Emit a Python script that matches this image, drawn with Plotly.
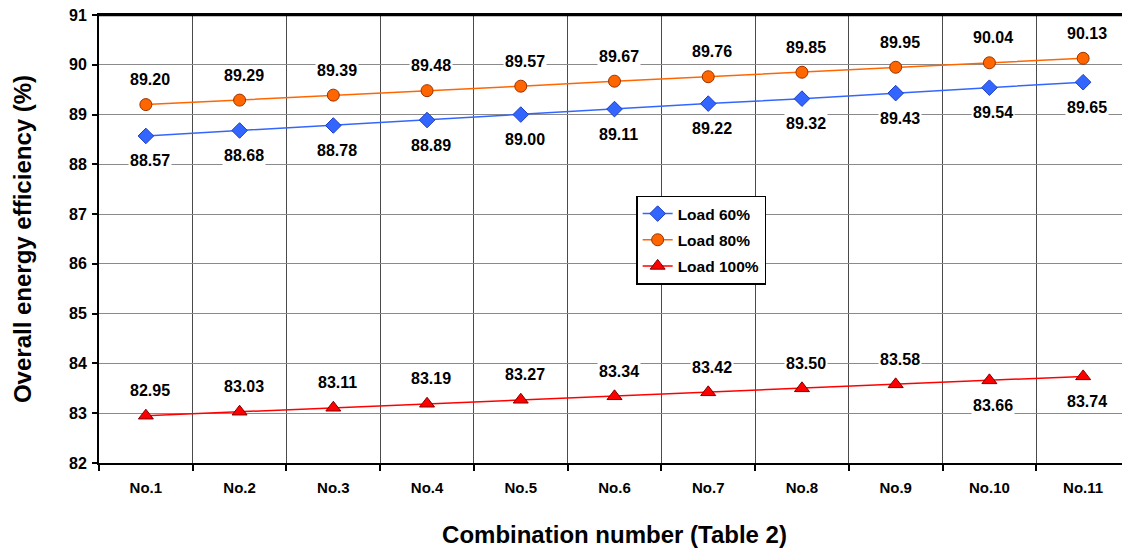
import plotly.graph_objects as go

categories = ["No.1", "No.2", "No.3", "No.4", "No.5", "No.6", "No.7", "No.8", "No.9", "No.10", "No.11"]
load60 = [88.57, 88.68, 88.78, 88.89, 89.00, 89.11, 89.22, 89.32, 89.43, 89.54, 89.65]
load80 = [89.20, 89.29, 89.39, 89.48, 89.57, 89.67, 89.76, 89.85, 89.95, 90.04, 90.13]
load100 = [82.95, 83.03, 83.11, 83.19, 83.27, 83.34, 83.42, 83.50, 83.58, 83.66, 83.74]
y_ticks = [82, 83, 84, 85, 86, 87, 88, 89, 90, 91]

# label placement (style): +1 above, -1 below
place60 = [-1] * 11
place80 = [1] * 11
place100 = [1] * 9 + [-1, -1]

FONT = "Arial, Liberation Sans, sans-serif"

series = [
    ("Load 60%", load60, place60, "#3366FF", "#1F3FBF", "diamond", 12),
    ("Load 80%", load80, place80, "#FF6600", "#993300", "circle", 12),
    ("Load 100%", load100, place100, "#FF0000", "#800000", "triangle-up", 13),
]

fig = go.Figure()
annotations = []
for name, vals, place, col, edge, sym, size in series:
    fig.add_trace(go.Scatter(
        x=categories, y=vals, mode="lines+markers", name=name, legendgroup=name,
        line=dict(color=col, width=1.5),
        marker=dict(symbol=sym, size=size, color=col, line=dict(color=edge, width=1)),
    ))
    for c, v, p in zip(categories, vals, place):
        annotations.append(dict(
            x=c, y=v, xref="x", yref="y", text=f"{v:.2f}", showarrow=False,
            yshift=25 * p, xshift=4,
            font=dict(family=FONT, size=16, color="black", weight="bold"),
            bgcolor="white", borderpad=1,
        ))

fig.update_layout(
    width=1122, height=540,
    margin=dict(l=91, r=0, t=7, b=85),
    paper_bgcolor="white", plot_bgcolor="white",
    font=dict(family=FONT, color="black"),
    annotations=annotations,
    shapes=[dict(type="line", xref="paper", yref="paper", x0=0, x1=1, y0=1, y1=1,
                 line=dict(color="black", width=2.5), layer="above")],
    showlegend=True,
    legend=dict(
        x=0.521, y=0.597, xanchor="left", yanchor="top",
        bgcolor="white", bordercolor="black", borderwidth=1.5,
        font=dict(family=FONT, size=15.5, color="black", weight="bold"),
        tracegroupgap=3,
    ),
    xaxis=dict(
        type="category", range=[-0.5, 10.5], automargin=False,
        tickson="boundaries", showgrid=True, gridcolor="#4a4a4a", gridwidth=1,
        ticks="outside", ticklen=6, tickwidth=2, tickcolor="black",
        ticklabelstandoff=10,
        showline=True, linecolor="black", linewidth=2, mirror=True,
        tickfont=dict(family=FONT, size=15, color="black", weight="bold"),
        title=dict(text="Combination number (Table 2)", standoff=32,
                   font=dict(family=FONT, size=24, color="black", weight="bold")),
    ),
    yaxis=dict(
        range=[82, 91], tickvals=y_ticks, automargin=False,
        ticklabeloverflow="allow",
        showgrid=True, gridcolor="#8a8a8a", gridwidth=1,
        ticks="outside", ticklen=5, tickwidth=2, tickcolor="black",
        ticklabelstandoff=2,
        showline=True, linecolor="black", linewidth=2,
        tickfont=dict(family=FONT, size=16, color="black", weight="bold"),
        title=dict(text="Overall energy efficiency (%)", standoff=31,
                   font=dict(family=FONT, size=24, color="black", weight="bold")),
        zeroline=False,
    ),
)

fig.write_html("out.html")
